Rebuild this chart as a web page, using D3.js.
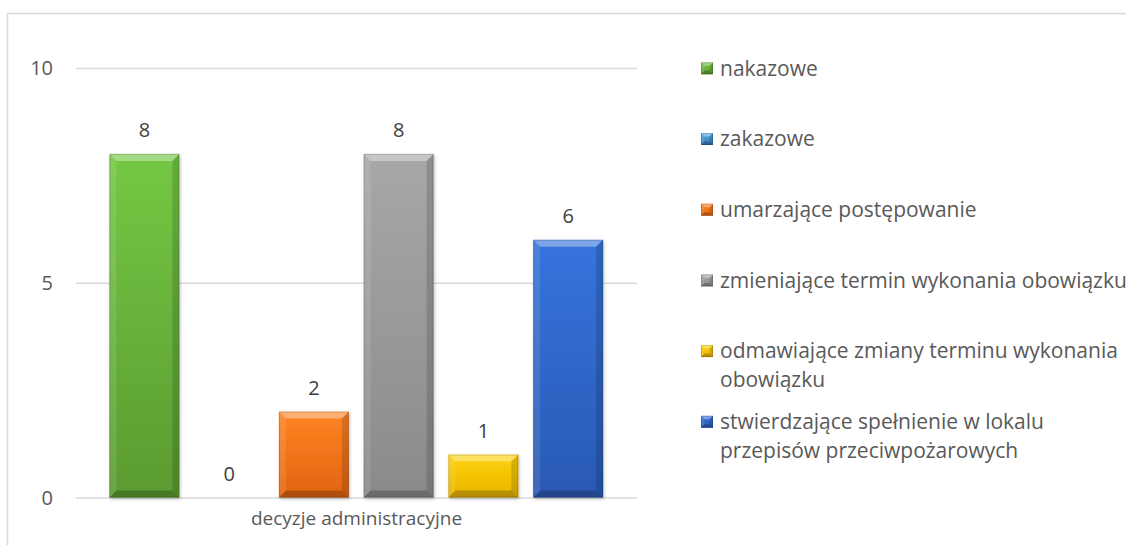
<!DOCTYPE html>
<html>
<head>
<meta charset="utf-8">
<script src="https://cdn.jsdelivr.net/npm/d3@7"></script>
<style>
  html, body { margin: 0; padding: 0; background: #fff; }
  svg { display: block; }
  text { font-family: "Open Sans", "Noto Sans", sans-serif; }
</style>
</head>
<body>
<svg id="chart" width="1126" height="545"></svg>
<script>
// ---- data ----
const categories = ["decyzje administracyjne"];
const seriesNames = [
  "nakazowe",
  "zakazowe",
  "umarzające postępowanie",
  "zmieniające termin wykonania obowiązku",
  "odmawiające zmiany terminu wykonania obowiązku",
  "stwierdzające spełnienie w lokalu przepisów przeciwpożarowych"
];
const seriesValues = [8, 0, 2, 8, 1, 6];
const legendLines = [
  ["nakazowe"],
  ["zakazowe"],
  ["umarzające postępowanie"],
  ["zmieniające termin wykonania obowiązku"],
  ["odmawiające zmiany terminu wykonania", "obowiązku"],
  ["stwierdzające spełnienie w lokalu", "przepisów przeciwpożarowych"]
];
const yTicks = [0, 5, 10];
const seriesColors = [
  ["#74c844", "#5b9b31"],
  ["#56a8e4", "#3579b8"],
  ["#ff8424", "#e0640f"],
  ["#a8a8a8", "#8a8a8a"],
  ["#ffd20a", "#e8b400"],
  ["#3574dc", "#2a59b4"]
];

// ---- layout ----
const svg = d3.select("#chart");
const plot = { left: 76, right: 637, top: 68, bottom: 497.5 };

const x0 = d3.scaleBand().domain(categories).range([plot.left, plot.right]).paddingInner(0).paddingOuter(0);
const x1 = d3.scaleBand().domain(seriesNames)
  .range([102, 610.5]).paddingInner(0.175).paddingOuter(0.0875);
const y = d3.scaleLinear().domain([0, 10]).range([plot.bottom, plot.top]);

// chart area border
svg.append("path")
  .attr("d", "M7.5,545 L7.5,13.5 L1126,13.5")
  .attr("fill", "none").attr("stroke", "#d9d9d9").attr("stroke-width", 1.5);

// defs
const defs = svg.append("defs");
seriesColors.forEach((c, i) => {
  const g = defs.append("linearGradient").attr("id", "g" + i)
    .attr("x1", 0).attr("y1", 0).attr("x2", 0).attr("y2", 1);
  g.append("stop").attr("offset", 0).attr("stop-color", c[0]);
  g.append("stop").attr("offset", 1).attr("stop-color", c[1]);
});
const f = defs.append("filter").attr("id", "shadow").attr("x", "-20%").attr("y", "-20%").attr("width", "140%").attr("height", "140%");
f.append("feDropShadow").attr("dx", 1).attr("dy", 1.5).attr("stdDeviation", 1.5).attr("flood-color", "#000").attr("flood-opacity", 0.25);

// gridlines via axis
const yAxis = d3.axisLeft(y).tickValues(yTicks).tickSize(-(plot.right - plot.left)).tickFormat(d3.format("d")).tickPadding(23);
const ga = svg.append("g").attr("transform", `translate(${plot.left},0)`).call(yAxis);
ga.select(".domain").remove();
ga.selectAll(".tick line").attr("stroke", "#d9d9d9").attr("stroke-width", 1.3);
ga.selectAll(".tick text").attr("fill", "#595959").attr("font-size", 20)
  .attr("font-family", "Open Sans, sans-serif").attr("dy", "0.34em");

// category axis label
const xAxis = d3.axisBottom(x0).tickSize(0).tickPadding(14);
const gx = svg.append("g").attr("transform", `translate(0,${plot.bottom})`).call(xAxis);
gx.select(".domain").remove();
gx.selectAll(".tick text").attr("fill", "#595959").attr("font-size", 19)
  .attr("font-family", "Open Sans, sans-serif");

// bevel bar drawing
function bevel(g, x, yy, w, h, b, i) {
  g.append("rect").attr("x", x).attr("y", yy).attr("width", w).attr("height", h)
    .attr("fill", `url(#g${i})`);
  const p = (pts) => "M" + pts.map(q => q.join(",")).join("L") + "Z";
  g.append("path").attr("d", p([[x, yy], [x + w, yy], [x + w - b, yy + b], [x + b, yy + b]]))
    .attr("fill", "#fff").attr("opacity", 0.35);
  g.append("path").attr("d", p([[x, yy], [x + b, yy + b], [x + b, yy + h - b], [x, yy + h]]))
    .attr("fill", "#fff").attr("opacity", 0.1);
  g.append("path").attr("d", p([[x + w, yy], [x + w - b, yy + b], [x + w - b, yy + h - b], [x + w, yy + h]]))
    .attr("fill", "#000").attr("opacity", 0.14);
  g.append("path").attr("d", p([[x, yy + h], [x + b, yy + h - b], [x + w - b, yy + h - b], [x + w, yy + h]]))
    .attr("fill", "#000").attr("opacity", 0.22);
  g.append("rect").attr("x", x + 0.5).attr("y", yy + 0.5).attr("width", Math.max(0, w - 1)).attr("height", Math.max(0, h - 1))
    .attr("fill", "none").attr("stroke", "#000").attr("stroke-opacity", 0.15);
}

const bars = svg.append("g");
seriesNames.forEach((s, i) => {
  const v = seriesValues[i];
  const bx = x1(s), bw = x1.bandwidth();
  const by = y(v), bh = y(0) - y(v);
  if (bh > 0) {
    const g = bars.append("g").attr("filter", "url(#shadow)");
    bevel(g, bx, by, bw, bh, Math.min(7, bh / 2), i);
  }
  bars.append("text")
    .attr("x", bx + bw / 2).attr("y", by - 24).attr("dy", "0.35em")
    .attr("text-anchor", "middle").attr("font-size", 20).attr("fill", "#404040")
    .text(d3.format("d")(v));
});

// legend
const legend = svg.append("g");
const legendY = d3.scalePoint().domain(seriesNames).range([68.3, 68.3 + 5 * 70.7]);
seriesNames.forEach((s, i) => {
  const cy = legendY(s);
  const g = legend.append("g");
  bevel(g, 701, cy - 6, 12, 12, 3.5, i);
  legendLines[i].forEach((line, j) => {
    legend.append("text").attr("x", 720).attr("y", cy + j * 29).attr("dy", "0.35em")
      .attr("font-size", 21).attr("fill", "#595959").text(line);
  });
});
</script>
</body>
</html>
